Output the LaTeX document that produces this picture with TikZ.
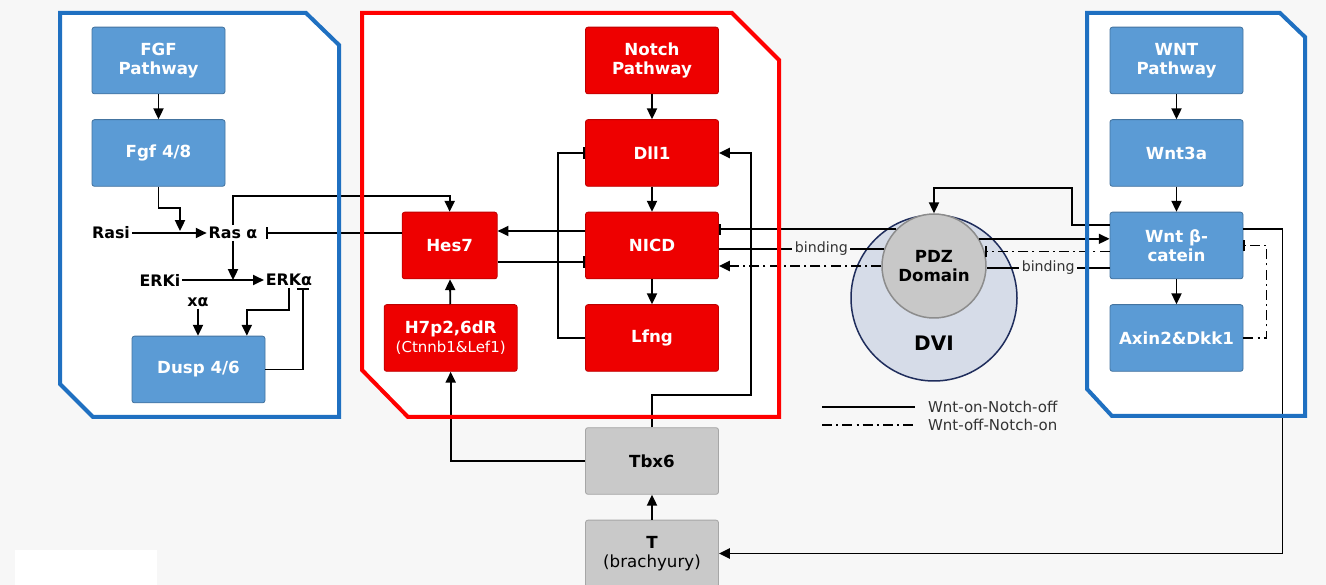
\documentclass[tikz,border=0pt]{standalone}
\usepackage{fontspec}
\setmainfont{DejaVu Sans}
\usepackage{tikz}
\usetikzlibrary{arrows.meta, positioning, shapes.geometric}

\definecolor{fgfblue}{HTML}{5B9BD5}
\definecolor{frameblue}{HTML}{1F70C1}
\definecolor{notchred}{HTML}{EE0000}
\definecolor{framered}{HTML}{FF0000}
\definecolor{tgray}{HTML}{C9C9C9}
\definecolor{dvifill}{HTML}{D6DCE8}
\definecolor{dviline}{HTML}{1F2D5C}
\definecolor{pdzfill}{HTML}{C8C8C8}
\definecolor{bgcolor}{HTML}{F7F7F7}

\tikzstyle{box} = [rectangle, rounded corners = 1.5pt, minimum width = 79.8pt, minimum height = 40pt,
inner sep = 1pt, align = center, line width = 0.5pt, font = \bfseries\fontsize{10}{11.5}\selectfont]
\tikzstyle{fgfbox} = [box, fill = fgfblue, draw = fgfblue!75!black, text = white]
\tikzstyle{notchbox} = [box, fill = notchred, draw = notchred!80!black, text = white]
\tikzstyle{tbox} = [box, fill = tgray, draw = black!35, text = black]
\tikzstyle{molecule} = [inner sep = 1pt, font = \bfseries\fontsize{9.5}{11}\selectfont]
\tikzstyle{binding} = [fill = bgcolor, inner sep = 1.5pt, text = black!80, font = \fontsize{8.5}{10}\selectfont]
\tikzstyle{legendtext} = [text = black!80, font = \fontsize{9}{11}\selectfont]
\tikzstyle{arrow} = [line width = 1.1pt, -{Triangle[length = 6.5pt, width = 6pt]}]
\tikzstyle{inhibit} = [line width = 1.1pt, -{Bar[width = 7pt]}]
\tikzstyle{wntoff} = [line width = 1.1pt, dash pattern = on 6pt off 2.5pt on 1.2pt off 2.5pt]
\tikzstyle{fgfframe} = [draw = frameblue, line width = 2.4pt, line join = miter]
\tikzstyle{notchframe} = [draw = framered, line width = 2.4pt, line join = miter]

\newcommand{\leftframe}{(60,13) -- (306,13) -- (339,45) -- (339,417) -- (93,417) -- (60,384) -- cycle}
\newcommand{\midframe}{(362,13) -- (732,13) -- (779,60) -- (779,417) -- (408,417) -- (362,370) -- cycle}
\newcommand{\rightframe}{(1087,13) -- (1280,13) -- (1305,37) -- (1305,416) -- (1112,416) -- (1087,389) -- cycle}

\begin{document}
\begin{tikzpicture} [x = 0.6pt, y = -0.6pt, node distance = 15pt]
\useasboundingbox (0,0) rectangle (1326,585);
\fill[bgcolor] (0,0) rectangle (1326,585);
\fill[white] (15,550) rectangle (157,585);
\fill[white] \leftframe;
\fill[white] \midframe;
\fill[white] \rightframe;

% FGF side
\node (fgf) [fgfbox] at (158.5,60.5) {FGF\\Pathway};
\node (fgf48) [fgfbox, below = of fgf] {Fgf 4/8};
\node (dusp) [fgfbox] at (198.5,369.5) {Dusp 4/6};
\node (rasi) [molecule] at (111,233) {Rasi};
\node (rasa) [molecule] at (233,233) {Ras α};
\node (erki) [molecule] at (160,280) {ERKi};
\node (erka) [molecule] at (289,280) {ERKα};
\node (xa) [molecule] at (198,302) {xα};
\coordinate (rasjoin) at (180,231);

% Notch side
\node (notch) [notchbox] at (652,60.5) {Notch\\Pathway};
\node (dll1) [notchbox, below = of notch] {Dll1};
\node (nicd) [notchbox, below = of dll1] {NICD};
\node (lfng) [notchbox, below = of nicd] {Lfng};
\node (hes7) [notchbox, minimum width = 57pt, left = 52.5pt of nicd] {Hes7};
\node (h7) [notchbox, left = 40.5pt of lfng] {H7p2,6dR\\{\mdseries\fontsize{9}{11}\selectfont (Ctnnb1\&Lef1)}};
\node (tbx6) [tbox] at (652,461) {Tbx6};
\node (t) [tbox, below = of tbx6] {T\\{\mdseries (brachyury)}};

% WNT side
\node (wnt) [fgfbox] at (1176.5,60.5) {WNT\\Pathway};
\node (wnt3a) [fgfbox, below = of wnt] {Wnt3a};
\node (wntb) [fgfbox, below = of wnt3a] {Wnt β-\\catein};
\node (axin) [fgfbox, below = of wntb] {Axin2\&Dkk1};

\node (dvi) [circle, fill = dvifill, draw = dviline, line width = 0.9pt, minimum size = 99.6pt] at (934,298) {};
\node (pdz) [circle, fill = pdzfill, draw = black!45, line width = 0.9pt, minimum size = 62.4pt, align = center,
font = \bfseries\fontsize{10}{11.5}\selectfont] at (934,266) {PDZ\\Domain};
\node (dvilabel) [font = \bfseries\fontsize{12}{14}\selectfont] at (934,343) {DVI};

% legend
\coordinate (onkey) at (822,407);
\coordinate (offkey) at (822,425);
\draw[line width = 1.1pt] (onkey) -- ++(93,0) node [right, xshift = 4pt, legendtext] {Wnt-on-Notch-off};
\draw[wntoff] (offkey) -- ++(93,0) node [right, xshift = 4pt, legendtext] {Wnt-off-Notch-on};

% FGF links
\draw[arrow] (fgf) -- (fgf48);
\draw[arrow] (fgf48.south) -- ++(0,21) -| (rasjoin);
\draw[arrow] (rasi) -- (rasa);
\draw[arrow] (rasa.north) -- ++(0,-29) -| (hes7.north);
\draw[inhibit] (hes7.west |- rasa) -- ([xshift = 4pt]rasa.east);
\draw[arrow] (rasa.south) -- (rasa.south |- erki);
\draw[arrow] (erki) -- (erka);
\draw[arrow] (erka.south) -- ++(0,22) -| ([xshift = 29pt]dusp.north);
\draw[arrow] (xa.south) -- (xa.south |- dusp.north);
\draw[inhibit] (dusp.east) -| ([xshift = 8.4pt]erka.south);

% Notch links
\draw[arrow] (notch) -- (dll1);
\draw[arrow] (dll1) -- (nicd);
\draw[arrow] (nicd) -- (lfng);
\draw[arrow] ([yshift = 8.7pt]nicd.west) -- ([yshift = 8.7pt]hes7.east);
\draw[inhibit] ([yshift = -10pt]hes7.east) -- ([yshift = -10pt]nicd.west);
\draw[inhibit] (lfng.west) -- ++(-27,0) |- (dll1.west);
\draw[arrow] (h7) -- (hes7);
\draw[arrow] (tbx6.west) -| (h7.south);
\draw[arrow] (tbx6.north) -- ++(0,-32) -- ++(99,0) |- (dll1.east);
\draw[arrow] (t) -- (tbx6);

% WNT links
\draw[arrow] (wnt) -- (wnt3a);
\draw[arrow] (wnt3a) -- (wntb);
\draw[arrow] (wntb) -- (axin);
\draw[wntoff, inhibit] (axin.east) -- ++(23,0) |- (wntb.east);
\draw[arrow] ([yshift = 9.9pt]wntb.east) -- ++(39,0) |- (t.east);

% DVI links
\draw[arrow] ([yshift = 12.3pt]wntb.west) -- ++(-38,0) -- ++(0,-37) -| (pdz.north);
\draw[inhibit] (pdz.136) -- (pdz.136 -| nicd.east);
\draw[line width = 1.1pt] (nicd.east |- pdz.161) -- node [binding, pos = 0.62] {binding} (pdz.161);
\draw[wntoff, arrow] (pdz.west) -- (pdz.west -| nicd.east);
\draw[arrow] (pdz.31) -- (pdz.31 -| wntb.west);
\draw[wntoff, inhibit] (wntb.west |- pdz.16) -- (pdz.16);
\draw[line width = 1.1pt] (wntb.west |- pdz.358) -- node [binding, pos = 0.5] {binding} (pdz.358);

% frames
\draw[fgfframe] \leftframe;
\draw[notchframe] \midframe;
\draw[fgfframe] \rightframe;
\end{tikzpicture}
\end{document}
